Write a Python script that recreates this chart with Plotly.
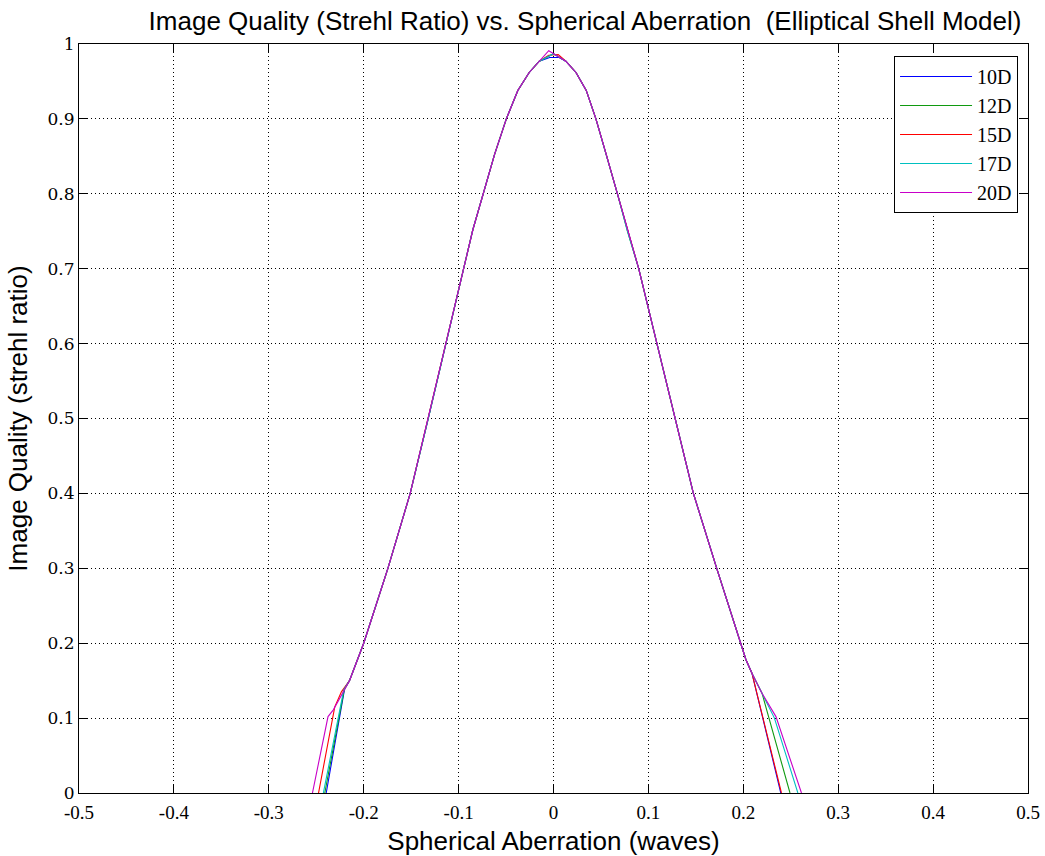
import plotly.graph_objects as go

# Shared central part of the curves
core_x = [-0.215, -0.200, -0.1745, -0.151, -0.132, -0.1137, -0.0947, -0.085, -0.0744,
          -0.062, -0.0497, -0.0376, -0.0256, -0.015]
core_y = [0.150, 0.200, 0.300, 0.400, 0.500, 0.600, 0.700, 0.752, 0.800,
          0.853, 0.900, 0.938, 0.962, 0.977]
core_rx = [0.013, 0.0237, 0.0345, 0.0447, 0.055, 0.0674, 0.078, 0.0898, 0.109, 0.128,
           0.1474, 0.172, 0.1976, 0.2028, 0.2091]
core_ry = [0.977, 0.962, 0.938, 0.900, 0.855, 0.800, 0.750, 0.700, 0.600, 0.500,
           0.400, 0.300, 0.200, 0.178, 0.160]

series_names = ["10D", "12D", "15D", "17D", "20D"]
series_colors = ["#0000ff", "#109a10", "#ff0000", "#00c0c0", "#c800c8"]

# left feet
left_x = {
    "10D": [-0.2395, -0.2200],
    "12D": [-0.2410, -0.2205],
    "15D": [-0.2476, -0.2305, -0.2235],
    "17D": [-0.2425, -0.2210],
    "20D": [-0.2540, -0.2376, -0.2320, -0.2235],
}
left_y = {
    "10D": [0.0, 0.140],
    "12D": [0.0, 0.138],
    "15D": [0.0, 0.115, 0.135],
    "17D": [0.0, 0.138],
    "20D": [0.0, 0.102, 0.111, 0.131],
}
# peaks
peak_x = {
    "10D": [-0.004, 0.006],
    "12D": [0.000],
    "15D": [-0.005, 0.005],
    "17D": [0.000],
    "20D": [-0.005],
}
peak_y = {
    "10D": [0.982, 0.982],
    "12D": [0.987],
    "15D": [0.985, 0.986],
    "17D": [0.987],
    "20D": [0.991],
}
# right feet
right_x = {
    "10D": [0.2395],
    "12D": [0.2197, 0.2492],
    "15D": [0.2402],
    "17D": [0.2197, 0.2328, 0.2575],
    "20D": [0.2197, 0.2344, 0.2613],
}
right_y = {
    "10D": [0.0],
    "12D": [0.1333, 0.0],
    "15D": [0.0],
    "17D": [0.1333, 0.100, 0.0],
    "20D": [0.1333, 0.102, 0.0],
}

x_ticks = [-0.5, -0.4, -0.3, -0.2, -0.1, 0, 0.1, 0.2, 0.3, 0.4, 0.5]
x_labels = ["-0.5", "-0.4", "-0.3", "-0.2", "-0.1", "0", "0.1", "0.2", "0.3", "0.4", "0.5"]
y_ticks = [0, 0.1, 0.2, 0.3, 0.4, 0.5, 0.6, 0.7, 0.8, 0.9, 1]
y_labels = ["0", "0.1", "0.2", "0.3", "0.4", "0.5", "0.6", "0.7", "0.8", "0.9", "1"]

fig = go.Figure()
for name, color in zip(series_names, series_colors):
    xs = left_x[name] + core_x + peak_x[name] + core_rx + right_x[name]
    ys = left_y[name] + core_y + peak_y[name] + core_ry + right_y[name]
    fig.add_trace(go.Scatter(x=xs, y=ys, mode="lines", name=name,
                             line=dict(color=color, width=1.1)))

axis_common = dict(
    showline=True, linecolor="black", linewidth=1, mirror="ticks",
    ticks="inside", ticklen=8, tickcolor="black", tickwidth=1,
    showgrid=True, gridcolor="black", gridwidth=1, griddash="1px,3px",
    zeroline=False, automargin=False,
)

W, H = 1045, 856

fig.update_layout(
    width=W, height=H,
    paper_bgcolor="white", plot_bgcolor="white",
    margin=dict(l=79, r=17, t=44, b=63),
    title=dict(text="Image Quality (Strehl Ratio) vs. Spherical Aberration  (Elliptical Shell Model)",
               x=585 / W, xanchor="center", xref="container",
               y=1 - 21 / H, yanchor="middle", yref="container",
               font=dict(family="Liberation Sans", size=26, color="black")),
    xaxis=dict(range=[-0.5, 0.5], tickvals=x_ticks, ticktext=x_labels,
               tickfont=dict(family="Liberation Serif", size=19, color="black"),
               ticklabelstandoff=2,
               title=dict(text="Spherical Aberration (waves)", standoff=10,
                          font=dict(family="Liberation Sans", size=26, color="black")),
               **axis_common),
    yaxis=dict(range=[0, 1], tickvals=y_ticks, ticktext=y_labels,
               tickfont=dict(family="DejaVu Serif", size=17, color="black"),
               title=dict(text="Image Quality (strehl ratio)", standoff=12,
                          font=dict(family="Liberation Sans", size=26, color="black")),
               **axis_common),
    legend=dict(x=0.9895, y=0.984, xanchor="right", yanchor="top",
                bgcolor="white", bordercolor="black", borderwidth=1,
                font=dict(family="Liberation Serif", size=20, color="black"),
                tracegroupgap=0, itemwidth=72),
    showlegend=True,
)

fig.write_html("out.html",
               config={"displayModeBar": False},
               post_script="document.body.style.margin='0';document.body.style.overflow='hidden';")
